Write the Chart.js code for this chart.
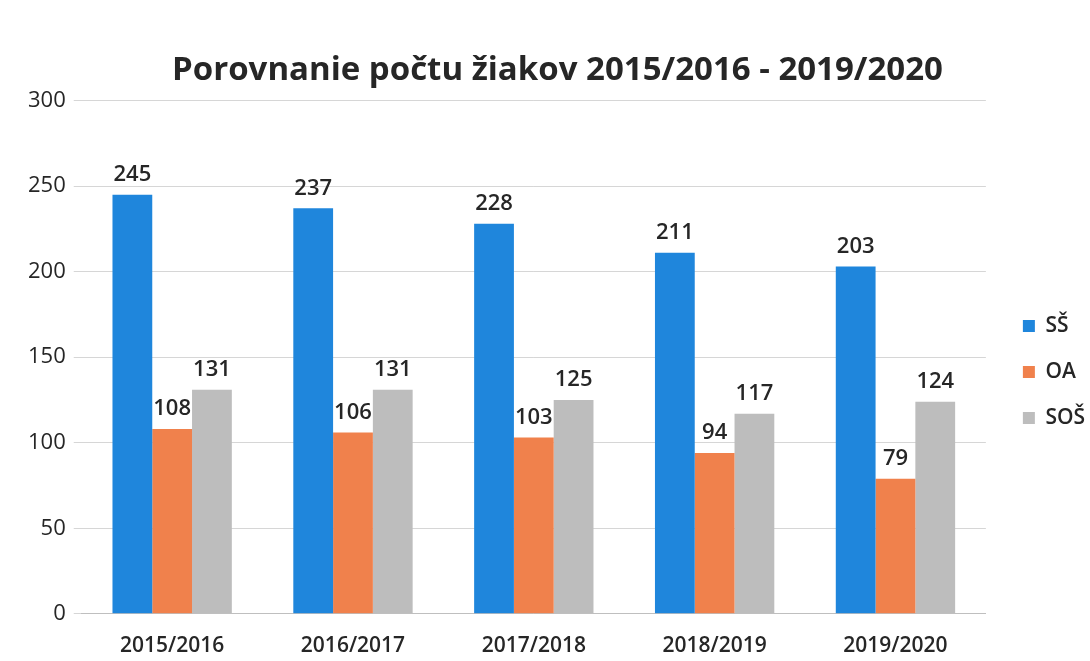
<!DOCTYPE html>
<html lang="sk">
<head>
<meta charset="utf-8">
<title>Porovnanie počtu žiakov</title>
<script src="https://cdnjs.cloudflare.com/ajax/libs/Chart.js/4.4.1/chart.umd.min.js"></script>
<style>
  html, body {
    margin: 0;
    padding: 0;
    background: #ffffff;
  }

  .chart-wrap {
    position: relative;
    width: 1090px;
    height: 661px;
  }
</style>
</head>
<body>
<div class="chart-wrap">
  <canvas id="studentsChart" width="1090" height="661"></canvas>
</div>

<script>
const CHART_TITLE = "Porovnanie počtu žiakov 2015/2016 - 2019/2020";
const SCHOOL_YEARS = ["2015/2016", "2016/2017", "2017/2018", "2018/2019", "2019/2020"];
const SERIES_NAMES = ["SŠ", "OA", "SOŠ"];
const SS_VALUES = [245, 237, 228, 211, 203];
const OA_VALUES = [108, 106, 103, 94, 79];
const SOS_VALUES = [131, 131, 125, 117, 124];
const SERIES_COLORS = ["#1f86dc", "#f0814c", "#bdbdbd"];
const Y_TICKS = [0, 50, 100, 150, 200, 250, 300];

const FONT_FAMILY = "'Open Sans', 'DejaVu Sans', sans-serif";
const TEXT_COLOR = "#262626";

const valueLabels = {
  id: "valueLabels",
  afterDatasetsDraw(chart) {
    const { ctx } = chart;
    ctx.save();
    ctx.font = `600 22px ${FONT_FAMILY}`;
    ctx.fillStyle = TEXT_COLOR;
    ctx.textAlign = "center";
    ctx.textBaseline = "bottom";

    chart.data.datasets.forEach((dataset, datasetIndex) => {
      const meta = chart.getDatasetMeta(datasetIndex);
      meta.data.forEach((bar, index) => {
        ctx.fillText(String(dataset.data[index]), bar.x, bar.y - 9);
      });
    });

    ctx.restore();
  }
};

function buildDatasets() {
  const values = [SS_VALUES, OA_VALUES, SOS_VALUES];

  return SERIES_NAMES.map((name, index) => ({
    label: name,
    data: values[index],
    backgroundColor: SERIES_COLORS[index],
    borderWidth: 0,
    barPercentage: 1,
    categoryPercentage: 0.66
  }));
}

function renderChart() {
  const canvas = document.getElementById("studentsChart");

  new Chart(canvas, {
    type: "bar",
    data: {
      labels: SCHOOL_YEARS,
      datasets: buildDatasets()
    },
    plugins: [valueLabels],
    options: {
      responsive: false,
      animation: false,
      layout: {
        padding: { top: 51, right: -5, bottom: -10, left: 20 }
      },
      plugins: {
        title: {
          display: true,
          text: CHART_TITLE,
          color: TEXT_COLOR,
          font: { family: FONT_FAMILY, size: 33, weight: "bold" },
          padding: { top: 0, bottom: 10 }
        },
        legend: {
          position: "right",
          // empty title, only pushes the legend items a little lower
          title: {
            display: true,
            text: "",
            font: { size: 10 },
            padding: 5
          },
          labels: {
            color: TEXT_COLOR,
            font: { family: FONT_FAMILY, size: 21, weight: "600" },
            boxWidth: 12,
            boxHeight: 12,
            padding: 25
          }
        },
        tooltip: { enabled: false }
      },
      scales: {
        x: {
          grid: { display: false },
          border: { color: "#bfbfbf", width: 1 },
          ticks: {
            color: TEXT_COLOR,
            font: { family: FONT_FAMILY, size: 21, weight: "600" },
            padding: 12
          }
        },
        y: {
          min: 0,
          max: 300,
          afterBuildTicks(axis) {
            axis.ticks = Y_TICKS.map((value) => ({ value }));
          },
          grid: { color: "#d6d6d6", tickLength: 8 },
          border: { display: false },
          ticks: {
            color: TEXT_COLOR,
            font: { family: FONT_FAMILY, size: 22 },
            padding: 8
          }
        },
        // empty right axis, only keeps a gap between the plot and the legend
        gap: {
          type: "linear",
          position: "right",
          grid: { display: false },
          border: { display: false },
          ticks: { display: false },
          afterFit(axis) {
            axis.width = 12;
          }
        }
      }
    }
  });
}

document.addEventListener("DOMContentLoaded", renderChart);
</script>
</body>
</html>
